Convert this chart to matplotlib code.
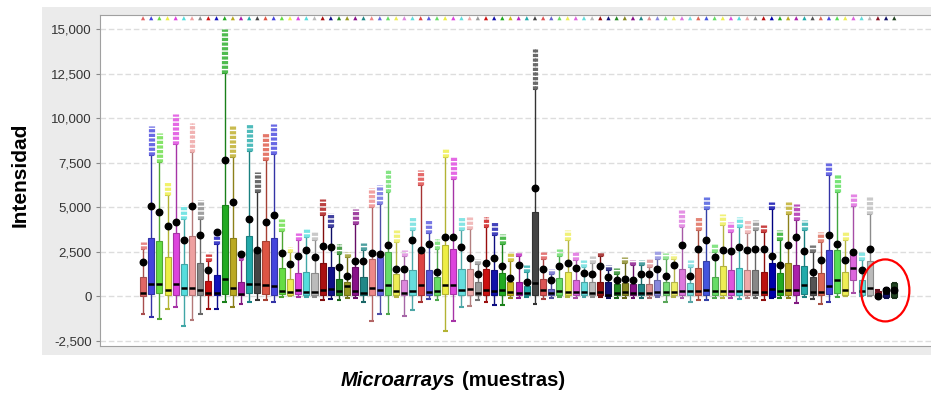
"""
Box plots of intensity per microarray sample (93 samples), rebuilt from a
screenshot. Values read off the picture by eye, in intensity units.
"""

import matplotlib
matplotlib.use("Agg")
import matplotlib.pyplot as plt
import numpy as np
from matplotlib.colors import to_rgb
from matplotlib.patches import Ellipse, Rectangle
from matplotlib.ticker import FuncFormatter

colors = [
    "#E06666", "#4444DD", "#66DD44", "#EEEE44", "#DD44DD", "#55DDDD", "#EEA0A0", "#888888",
    "#CC1111", "#1111BB", "#22AA22", "#BBAA22", "#AA22AA", "#22AAAA", "#444444", "#DD5544",
    "#4444DD", "#66DD44", "#EEEE55", "#DD44DD", "#55DDDD", "#BBBBBB", "#AA1111", "#111188",
    "#228822", "#999922", "#881188", "#228888", "#EE8888", "#6666DD", "#66DD66", "#EEEE55",
    "#DD88DD", "#66DDDD", "#DD4444", "#5555DD", "#66DD66", "#EEEE44", "#DD44DD", "#66DDDD",
    "#EEAAAA", "#999999", "#CC1111", "#1111AA", "#22AA22", "#CCBB22", "#BB22BB", "#22AAAA",
    "#444444", "#DD5555", "#6666CC", "#66DD66", "#EEEE55", "#DD66DD", "#66DDDD", "#BBBBBB",
    "#991111", "#111177", "#228822", "#888822", "#881188", "#228888", "#DD9090", "#8888DD",
    "#77DD77", "#EEEE66", "#DD77DD", "#77DDDD", "#DD6655", "#4455DD", "#66DD66", "#EEEE55",
    "#DD55DD", "#55DDDD", "#EEAAAA", "#888888", "#BB1111", "#0000AA", "#22AA22", "#BBAA22",
    "#AA22AA", "#22AAAA", "#555555", "#DD6655", "#4444DD", "#55DD55", "#EEEE55", "#DD66DD",
    "#66DDDD", "#BBBBBB", "#881122", "#111166", "#224422",
]

q1 = [
    50, 150, 185, 95, 110, 95, 110, 95, 95, 95, 150, 95, 95, 185, 185, 150,
    95, 150, 95, 150, 95, 95, 95, 95, 95, 95, 95, 95, 95, 95, 95, 95,
    95, 95, 95, 95, 95, 150, 150, 95, 95, 95, 95, 95, 95, 95, 95, 95,
    95, 95, 95, 95, 95, 95, 95, 95, 95, 40, 95, 95, 95, 95, 95, 95,
    95, 95, 95, 95, 95, 95, 95, 95, 95, 95, 95, 95, 95, -40, 95, 95,
    95, 150, 95, 95, 150, 185, 95, 940, 95, 95, -40, -40, -40,
]
median = [
    185, 710, 675, 375, 710, 490, 490, 375, 185, 185, 990, 490, 150, 710, 710, 620,
    580, 300, 240, 375, 240, 240, 375, 430, 300, 560, 300, 205, 490, 375, 620, 300,
    185, 300, 620, 240, 300, 620, 620, 375, 430, 185, 375, 300, 375, 240, 185, 185,
    750, 375, 185, 300, 240, 240, 240, 185, 240, 110, 185, 240, 185, 185, 185, 240,
    240, 240, 300, 300, 300, 375, 300, 300, 300, 300, 300, 240, 240, 430, 300, 375,
    375, 620, 240, 240, 560, 900, 375, 1590, 300, 490, 100, 200, 390,
]
q3 = [
    1085, 3300, 3090, 2210, 3580, 1800, 3390, 1890, 860, 1180, 5150, 3300, 800, 3370, 2585, 3090,
    3280, 1590, 990, 1310, 1400, 1310, 1870, 1645, 990, 840, 1645, 1085, 2080, 2210, 2490, 1275,
    900, 1500, 2435, 1500, 1085, 2900, 2680, 1555, 1555, 800, 1555, 1460, 1310, 800, 800, 560,
    4740, 990, 430, 1030, 1365, 900, 800, 800, 840, 800, 710, 750, 710, 710, 710, 900,
    800, 840, 1555, 750, 1590, 1965, 1085, 1705, 1500, 1590, 1500, 1500, 1365, 1870, 1310, 1870,
    1740, 1705, 1085, 1310, 2585, 2585, 1365, 2490, 900, 1965, 300, 450, 730,
]
whisker_low = [
    -975, -1125, -1250, -680, -600, -1630, -1310, -975, -730, -730, -320, -600, -410, -320, -225, -225,
    -320, -40, 0, -40, -40, -40, -225, -130, -225, -75, -75, -320, -1385, -1010, -1010, -40,
    -1070, -785, -320, -130, -225, -1910, -1385, -600, -560, -225, -320, -505, -505, -75, -75, -40,
    -450, -130, -75, -40, -40, -75, -40, -40, -40, -75, -75, -75, -75, -75, -75, -40,
    -320, -40, -75, -320, -225, -225, -75, -75, -75, -130, -75, -75, -225, -75, -75, -75,
    -375, -40, -130, -410, -320, -40, 0, 185, 0, 40, -100, -60, -60,
]
whisker_high = [
    2640, 7920, 7545, 5675, 8580, 4365, 8110, 4365, 1985, 2920, 12530, 7830, 2020, 8165, 5860, 7640,
    8015, 3650, 2490, 3185, 3330, 3145, 4550, 3895, 2360, 2210, 4045, 2585, 5020, 5170, 5860, 3050,
    2300, 3710, 6235, 3560, 2680, 7830, 6610, 3710, 3800, 1835, 3895, 3425, 2960, 1985, 2250, 1365,
    11630, 2115, 1275, 2300, 3145, 2060, 1645, 1870, 2300, 1460, 1275, 1870, 1740, 1740, 1645, 2115,
    2115, 2100, 3895, 1645, 3710, 4925, 2490, 3990, 3610, 3895, 3560, 3710, 3610, 4925, 3145, 4645,
    4270, 3710, 2490, 3050, 6800, 5860, 3145, 5060, 2020, 4645, 350, 500, 750,
]
outlier_top = [
    3050, 9550, 9175, 6420, 10225, 5110, 9735, 5390, 2400, 3710, 15000, 9550, 2430, 9660, 6980, 9175,
    9660, 4365, 2770, 3560, 3800, 3610, 5490, 4690, 2920, 2490, 4925, 3000, 6110, 6235, 7080, 3710,
    2620, 4460, 7115, 4270, 3240, 8300, 7865, 4460, 4460, 2115, 4460, 4180, 3520, 2435, 2490, 1740,
    13880, 2490, 1555, 2680, 3710, 2490, 2060, 2300, 2490, 1740, 1590, 2210, 2020, 2020, 2115, 2585,
    2435, 2400, 4830, 2060, 4460, 5580, 3000, 4645, 4180, 4460, 4270, 4270, 3990, 5300, 3710, 5300,
    5210, 4270, 2865, 3610, 7490, 6890, 3610, 5770, 2490, 5580, 350, 500, 750,
]
mean = [
    1930, 5060, 4740, 3930, 4180, 3145, 5060, 3465, 1460, 3610, 7680, 5300, 2360, 4325, 2620, 4180,
    4550, 2435, 1835, 2300, 2585, 2210, 2810, 2770, 1645, 1140, 1965, 1965, 2435, 2400, 2865, 1555,
    1555, 3145, 2585, 2920, 1365, 3330, 3330, 2770, 2170, 1275, 1870, 2150, 1685, 1050, 1740, 800,
    6070, 1555, 900, 1685, 1870, 1590, 1310, 1235, 1685, 1085, 900, 990, 900, 1275, 1275, 1555,
    1125, 1740, 2865, 1125, 2680, 3185, 2210, 2585, 2530, 2770, 2585, 2680, 2680, 2300, 1780, 2865,
    3330, 2550, 1400, 2060, 3425, 2960, 2020, 2490, 1460, 2680, 0, 390, 390,
]

y_ticks = [-2500, 0, 2500, 5000, 7500, 10000, 12500, 15000]


def darker(c, f=0.75):
    r, g, b = to_rgb(c)
    return (r * f, g * f, b * f)


def lighter(c, f=0.2):
    r, g, b = to_rgb(c)
    return (r + (1 - r) * f, g + (1 - g) * f, b + (1 - b) * f)


fig = plt.figure(figsize=(9.31, 3.96), dpi=100)
fig.add_artist(Rectangle((42 / 931, 41 / 396), 1, 348 / 396, transform=fig.transFigure,
                         facecolor="#EBEBEB", edgecolor="none", zorder=-10))
ax = fig.add_axes([100 / 931, 50 / 396, 831 / 931, 331 / 396])
ax.set_zorder(1)
ax.set_facecolor("white")

x = np.arange(len(colors))
half = 0.37
for i, c in enumerate(colors):
    edge = darker(c)
    ax.vlines(i, q3[i], whisker_high[i], color=edge, lw=1.0, zorder=2)
    ax.vlines(i, whisker_low[i], q1[i], color=edge, lw=1.0, zorder=2)
    ax.hlines([whisker_low[i], whisker_high[i]], i - 0.3, i + 0.3, color=edge, lw=1.5, zorder=2)
    if outlier_top[i] > whisker_high[i]:
        for dx in (-0.18, 0.18):
            ax.plot([i + dx, i + dx], [whisker_high[i], outlier_top[i]], color=lighter(c),
                    lw=2.3, ls=(0, (1, 0.45)), solid_capstyle="butt", zorder=2)
    ax.bar(i, q3[i] - q1[i], bottom=q1[i], width=2 * half, color=c, edgecolor=edge,
           lw=0.8, zorder=3)
    ax.hlines(median[i], i - half, i + half, color="black", lw=1.8, zorder=4)

ax.scatter(x, mean, s=22, color="black", zorder=5)
ax.scatter(x, np.full(len(x), 15620), marker="^", s=9, c=colors, lw=0, zorder=5, clip_on=False)

ax.add_patch(Ellipse((90.9, 340), 5.9, 3480, fill=False, edgecolor="red", lw=1.6, zorder=6))

ax.set_xlim(-5.27, 96.5)
ax.set_ylim(-2780, 15800)
ax.set_xticks([])
ax.set_yticks(y_ticks)
ax.yaxis.set_major_formatter(FuncFormatter(lambda v, _: f"{v:,.0f}"))
ax.tick_params(axis="y", length=3, color="#888888", labelcolor="#333333", pad=3)
for lab in ax.get_yticklabels():
    lab.set_family(["Liberation Sans Narrow", "Liberation Sans"])
    lab.set_fontsize(9.5)
ax.grid(axis="y", color="#DDDDDD", lw=1.0, ls=(0, (4, 2)), zorder=0)
for side in ("left", "bottom", "top"):
    ax.spines[side].set_color("#A0A0A0")
ax.spines["right"].set_visible(False)

fig.text(0.022, 0.558, "Intensidad", rotation=90, ha="center", va="center",
         fontsize=15, fontweight="bold", family=["Liberation Sans", "DejaVu Sans"])
fig.text(455 / 931, 0.038, "Microarrays", ha="right", va="center", fontsize=14.5,
         fontweight="bold", fontstyle="italic", family=["Liberation Sans", "DejaVu Sans"])
fig.text(462 / 931, 0.038, "(muestras)", ha="left", va="center", fontsize=14.5,
         fontweight="bold", family=["Liberation Sans", "DejaVu Sans"])

fig.savefig("out.png", dpi=100)
